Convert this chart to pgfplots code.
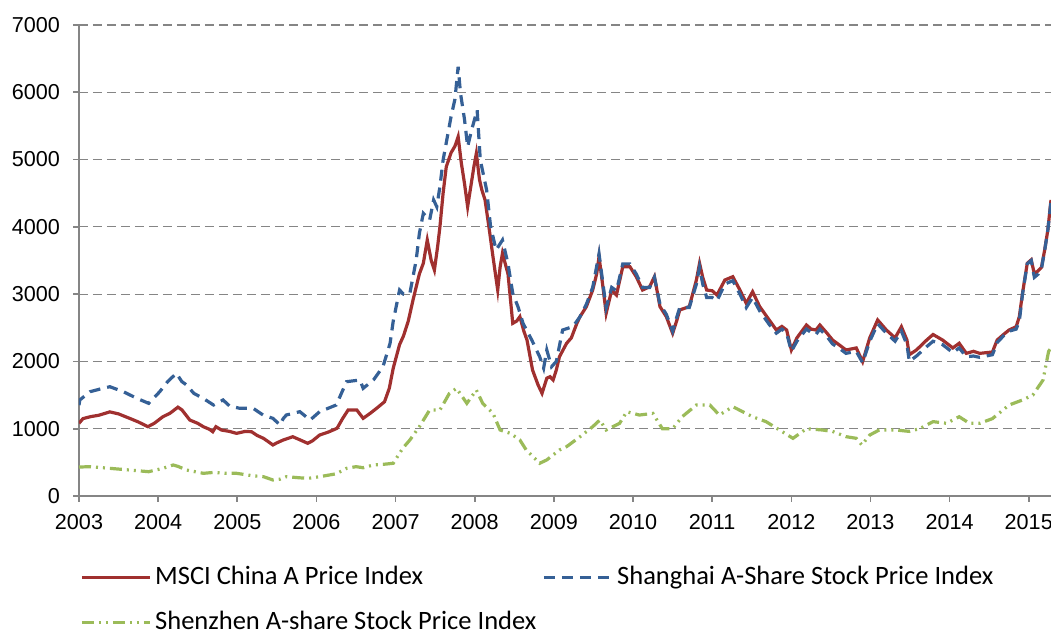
\documentclass[border=0pt]{standalone}
\usepackage{pgfplots}
\pgfplotsset{compat=1.18}
\usepackage{fontspec}
\setmainfont{Carlito}
\newfontfamily\arial{Liberation Sans}
\definecolor{cred}{HTML}{A0302F}
\definecolor{cblue}{HTML}{356096}
\definecolor{cgreen}{HTML}{9BBB59}
\definecolor{cgrid}{HTML}{858585}
\begin{document}
\begin{tikzpicture}
\begin{axis}[
  name=ax,
  scale only axis,
  width=486pt, height=235.5pt,
  xmin=2003, xmax=2015.28,
  ymin=0, ymax=7000,
  xtick={2003,2004,...,2015},
  ytick={0,1000,...,7000},
  axis lines*=left,
  axis line style={draw=cgrid, line width=0.8pt, -},
  tick align=outside,
  major tick length=3pt,
  tick style={draw=cgrid, line width=0.8pt},
  ymajorgrids,
  major grid style={draw=cgrid, line width=0.6pt, dash pattern=on 4.5pt off 2.5pt},
  /pgf/number format/assume math mode=true,
  /pgf/number format/set thousands separator={},
  tick label style={font=\fontsize{10.8}{12}\selectfont\arial, text=black},
  yticklabel style={xshift=-3pt},
  xticklabel style={yshift=-2.5pt},
  legend columns=2,
  legend cell align=left,
  legend image code/.code={\draw[#1] (0pt,0pt) -- (34pt,0pt);},
  legend style={
    at={(axis description cs:0,0)}, anchor=north west,
    xshift=0.5pt, yshift=-33pt,
    draw=none, fill=none, inner sep=0pt,
    font=\fontsize{13.25}{15}\selectfont,
    nodes={inner sep=1pt, text height=10pt, text depth=3pt},
    row sep=7.5pt,
    /tikz/every odd column/.append style={column sep=0.8pt},
    /tikz/every even column/.append style={column sep=2pt},
  },
]
\addplot[cred, line width=1.6pt] coordinates {
(2003.00,1080)(2003.05,1150)(2003.15,1180)(2003.25,1200)(2003.39,1250)(2003.5,1220)(2003.64,1154)(2003.75,1100)(2003.87,1030)(2003.95,1080)(2004.06,1178)(2004.15,1230)(2004.25,1320)(2004.30,1280)(2004.40,1129)(2004.50,1080)(2004.57,1030)(2004.65,990)(2004.69,955)(2004.73,1030)(2004.80,980)(2004.90,960)(2004.99,931)(2005.10,960)(2005.18,955)(2005.25,900)(2005.33,857)(2005.40,800)(2005.45,758)(2005.50,790)(2005.58,832)(2005.65,860)(2005.70,881)(2005.80,830)(2005.89,783)(2005.95,820)(2006.04,906)(2006.15,950)(2006.26,1006)(2006.33,1150)(2006.40,1278)(2006.51,1278)(2006.59,1154)(2006.68,1230)(2006.76,1303)(2006.86,1401)(2006.92,1600)(2006.97,1900)(2007.05,2250)(2007.10,2380)(2007.16,2600)(2007.22,2913)(2007.30,3300)(2007.35,3458)(2007.40,3804)(2007.45,3500)(2007.49,3358)(2007.53,3700)(2007.56,4002)(2007.60,4500)(2007.64,4893)(2007.70,5100)(2007.75,5200)(2007.79,5339)(2007.83,4950)(2007.87,4647)(2007.91,4299)(2007.95,4600)(2007.99,4900)(2008.02,5092)(2008.06,4700)(2008.09,4547)(2008.13,4400)(2008.19,3904)(2008.23,3556)(2008.29,3061)(2008.32,3400)(2008.35,3607)(2008.42,3300)(2008.48,2566)(2008.53,2600)(2008.57,2665)(2008.62,2450)(2008.66,2318)(2008.73,1872)(2008.80,1650)(2008.85,1526)(2008.91,1750)(2008.95,1773)(2008.99,1724)(2009.03,1872)(2009.07,2070)(2009.16,2269)(2009.22,2350)(2009.29,2566)(2009.33,2665)(2009.41,2814)(2009.49,3061)(2009.54,3300)(2009.57,3556)(2009.62,3100)(2009.66,2715)(2009.73,3061)(2009.79,2987)(2009.87,3408)(2009.96,3408)(2010.04,3259)(2010.12,3061)(2010.21,3111)(2010.27,3259)(2010.34,2814)(2010.42,2665)(2010.50,2418)(2010.55,2600)(2010.59,2765)(2010.71,2814)(2010.80,3210)(2010.84,3458)(2010.88,3250)(2010.93,3061)(2011.00,3050)(2011.06,2987)(2011.16,3210)(2011.26,3259)(2011.35,3061)(2011.43,2864)(2011.51,3036)(2011.60,2814)(2011.72,2616)(2011.81,2467)(2011.88,2520)(2011.94,2467)(2012.00,2170)(2012.07,2350)(2012.19,2541)(2012.25,2480)(2012.31,2467)(2012.36,2541)(2012.45,2420)(2012.52,2318)(2012.60,2250)(2012.69,2170)(2012.82,2200)(2012.90,1996)(2012.99,2350)(2013.09,2616)(2013.20,2467)(2013.31,2350)(2013.39,2516)(2013.46,2318)(2013.49,2100)(2013.58,2170)(2013.71,2318)(2013.79,2400)(2013.91,2318)(2014.04,2200)(2014.12,2270)(2014.21,2120)(2014.30,2150)(2014.38,2120)(2014.46,2130)(2014.54,2140)(2014.60,2318)(2014.68,2400)(2014.75,2467)(2014.84,2516)(2014.88,2665)(2014.92,3012)(2014.98,3458)(2015.03,3510)(2015.07,3300)(2015.12,3350)(2015.16,3400)(2015.20,3656)(2015.24,3953)(2015.28,4400)
};
\addlegendentry{MSCI China A Price Index}
\addplot[cblue, line width=1.6pt, dash pattern=on 5.5pt off 3.5pt] coordinates {
(2003.00,1350)(2003.01,1427)(2003.14,1550)(2003.30,1600)(2003.39,1624)(2003.56,1550)(2003.73,1452)(2003.88,1377)(2004.02,1550)(2004.12,1700)(2004.23,1823)(2004.30,1700)(2004.36,1649)(2004.45,1526)(2004.57,1450)(2004.70,1352)(2004.82,1427)(2004.90,1340)(2005.03,1303)(2005.20,1303)(2005.33,1200)(2005.45,1154)(2005.54,1055)(2005.58,1150)(2005.62,1204)(2005.79,1253)(2005.92,1129)(2006.04,1253)(2006.25,1352)(2006.38,1699)(2006.55,1724)(2006.59,1600)(2006.72,1724)(2006.84,1921)(2006.93,2269)(2006.97,2600)(2007.05,3061)(2007.10,3000)(2007.18,3012)(2007.26,3507)(2007.30,3900)(2007.35,4201)(2007.43,4101)(2007.48,4400)(2007.52,4299)(2007.56,4600)(2007.60,4993)(2007.70,5636)(2007.75,5900)(2007.79,6380)(2007.82,5984)(2007.87,5600)(2007.91,5191)(2007.96,5439)(2008.03,5736)(2008.07,4993)(2008.15,4547)(2008.20,4002)(2008.27,3656)(2008.35,3804)(2008.42,3450)(2008.48,3012)(2008.55,2800)(2008.61,2566)(2008.72,2318)(2008.82,2070)(2008.87,1900)(2008.91,2170)(2008.97,1921)(2009.03,2000)(2009.11,2467)(2009.24,2517)(2009.33,2665)(2009.41,2850)(2009.49,3100)(2009.57,3600)(2009.62,3150)(2009.66,2800)(2009.73,3100)(2009.79,3050)(2009.87,3450)(2009.96,3450)(2010.04,3300)(2010.12,3100)(2010.21,3100)(2010.27,3250)(2010.34,2850)(2010.42,2700)(2010.50,2450)(2010.55,2650)(2010.59,2800)(2010.71,2800)(2010.80,3150)(2010.84,3400)(2010.88,3150)(2010.93,2950)(2011.00,2950)(2011.06,2900)(2011.16,3150)(2011.26,3200)(2011.35,3000)(2011.43,2800)(2011.51,2950)(2011.60,2750)(2011.72,2550)(2011.81,2420)(2011.88,2480)(2011.94,2420)(2012.00,2150)(2012.07,2300)(2012.19,2480)(2012.25,2430)(2012.31,2400)(2012.36,2480)(2012.45,2370)(2012.52,2260)(2012.60,2200)(2012.69,2120)(2012.82,2150)(2012.90,1980)(2012.99,2300)(2013.09,2560)(2013.20,2420)(2013.31,2300)(2013.39,2450)(2013.46,2250)(2013.49,2000)(2013.58,2080)(2013.71,2220)(2013.79,2300)(2013.91,2250)(2014.04,2130)(2014.12,2200)(2014.21,2070)(2014.30,2080)(2014.38,2060)(2014.46,2080)(2014.54,2100)(2014.60,2280)(2014.68,2380)(2014.75,2450)(2014.84,2480)(2014.88,2600)(2014.92,3000)(2014.98,3450)(2015.03,3500)(2015.07,3250)(2015.12,3300)(2015.16,3380)(2015.20,3650)(2015.24,3950)(2015.28,4380)
};
\addlegendentry{Shanghai A-Share Stock Price Index}
\addplot[cgreen, line width=1.6pt, dash pattern=on 6pt off 2.5pt on 1pt off 2.5pt on 1pt off 2.5pt] coordinates {
(2003.00,430)(2003.14,436)(2003.39,411)(2003.64,386)(2003.88,361)(2004.06,411)(2004.19,461)(2004.25,440)(2004.36,386)(2004.57,337)(2004.70,350)(2004.86,337)(2004.99,337)(2005.20,300)(2005.33,287)(2005.45,238)(2005.54,250)(2005.62,287)(2005.79,270)(2005.90,263)(2006.04,287)(2006.25,330)(2006.38,411)(2006.50,436)(2006.59,420)(2006.72,461)(2006.84,470)(2006.97,486)(2007.09,709)(2007.18,832)(2007.30,1030)(2007.43,1278)(2007.56,1278)(2007.68,1526)(2007.77,1600)(2007.90,1377)(2008.02,1575)(2008.10,1377)(2008.23,1229)(2008.32,981)(2008.45,931)(2008.57,832)(2008.65,684)(2008.82,486)(2008.91,536)(2009.07,684)(2009.16,733)(2009.33,881)(2009.49,1030)(2009.58,1129)(2009.66,981)(2009.83,1080)(2009.92,1253)(2010.08,1203)(2010.25,1228)(2010.37,1000)(2010.50,1000)(2010.62,1178)(2010.80,1352)(2010.97,1352)(2011.09,1203)(2011.26,1327)(2011.51,1178)(2011.68,1105)(2011.85,981)(2012.02,857)(2012.19,1000)(2012.39,981)(2012.52,960)(2012.69,882)(2012.82,857)(2012.89,758)(2012.99,906)(2013.11,981)(2013.32,981)(2013.49,960)(2013.62,1000)(2013.79,1105)(2013.96,1080)(2014.12,1178)(2014.25,1080)(2014.38,1080)(2014.54,1150)(2014.75,1352)(2014.92,1427)(2015.05,1500)(2015.18,1724)(2015.22,1971)(2015.25,2150)(2015.28,2200)
};
\addlegendentry{Shenzhen A-share Stock Price Index}
\end{axis}
\pgfresetboundingbox
\path[use as bounding box] ([xshift=-39.5pt, yshift=-69.5pt]ax.south west) rectangle ([yshift=12.5pt]ax.north east);
\end{tikzpicture}
\end{document}
